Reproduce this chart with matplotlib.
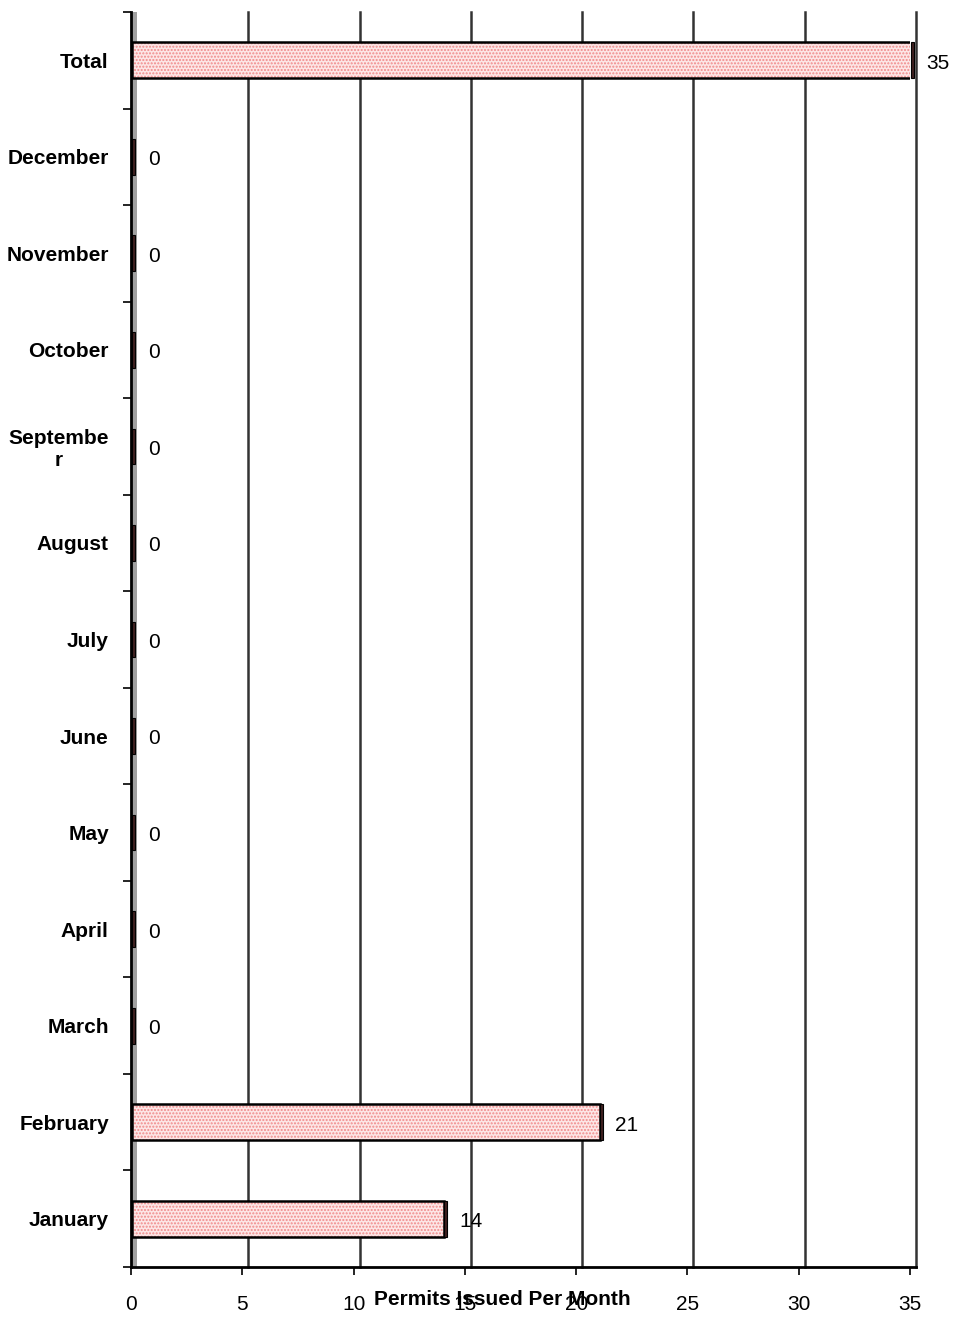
import matplotlib.pyplot as plt
from matplotlib.patches import Rectangle

months = ["January", "February", "March", "April", "May", "June", "July",
          "August", "Septembe\nr", "October", "November", "December", "Total"]
permits = [14, 21, 0, 0, 0, 0, 0, 0, 0, 0, 0, 0, 35]
x_ticks = [0, 5, 10, 15, 20, 25, 30, 35]

plt.rcParams["font.family"] = ["Liberation Sans", "DejaVu Sans"]
FS = 15

fig = plt.figure(figsize=(9.54, 13.2), dpi=100)
ax = fig.add_axes([131 / 954, 1 - 1267 / 1320, 779 / 954, 1255 / 1320])

depth = 0.27  # 3D depth offset in data units
n = len(months)
ax.set_xlim(0, 35)
ax.set_ylim(-0.5, n - 0.5)

# back wall and grid
ax.add_patch(Rectangle((0, -0.5), depth, n, facecolor="#a0a0a0",
                       edgecolor="none", zorder=1, clip_on=False))
for v in x_ticks[1:]:
    ax.plot([v + depth, v + depth], [-0.5, n - 0.5], color="#333333",
            lw=1.8, zorder=1, clip_on=False)

bh = 0.37
for i, v in enumerate(permits):
    if v > 0:
        ax.barh(i, v, height=bh, left=0.05, color="#fde6e6", hatch=".....",
                edgecolor="#f08a8a", linewidth=0, zorder=2)
        ax.barh(i, v, height=bh, left=0.05, color="none", edgecolor="black",
                linewidth=1.8, zorder=3)
    # dark side face of each bar
    ax.add_patch(Rectangle((v + 0.05, i - bh / 2), 0.15, bh,
                           facecolor="#402020", edgecolor="black", lw=0.8,
                           zorder=4, clip_on=False))
    ax.text(v + 0.75, i - 0.03, str(v), ha="left", va="center", fontsize=FS)

for s in ["top", "right"]:
    ax.spines[s].set_visible(False)
ax.spines["left"].set_linewidth(2)
ax.spines["bottom"].set_linewidth(2)
ax.spines["bottom"].set_bounds(0, 35 + depth)

ax.set_xticks(x_ticks)
ax.set_xticklabels([str(v) for v in x_ticks], fontsize=FS)
ax.tick_params(axis="x", length=6, width=1.2, pad=14)

ax.set_yticks([i for i in range(n)])
ax.set_yticklabels(months, fontsize=FS, fontweight="bold", multialignment="center")
ax.tick_params(axis="y", length=0, pad=16)
ax.set_yticks([i - 0.5 for i in range(n + 1)], minor=True)
ax.tick_params(axis="y", which="minor", length=6, width=1.2)

ax.set_xlabel("Permits Issued Per Month", fontsize=FS, fontweight="bold")
ax.xaxis.set_label_coords(0.477, -0.026)
ax.xaxis.label.set_va("center")

fig.savefig("out.png", dpi=100)
